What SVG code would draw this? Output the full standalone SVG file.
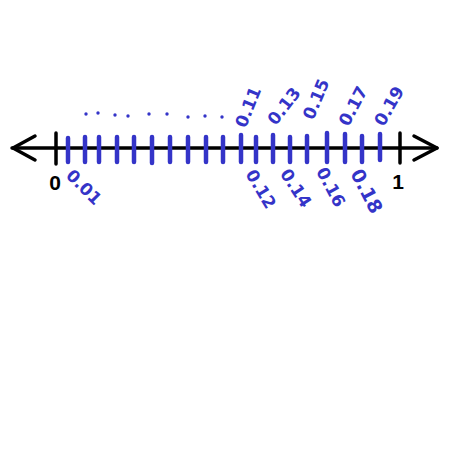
<svg xmlns="http://www.w3.org/2000/svg" width="450" height="450" viewBox="0 0 450 450">
<style>
.ax{stroke:#000;stroke-width:3.5;fill:none;stroke-linecap:round;stroke-linejoin:round}
.bt{stroke:#3434c8;stroke-width:4.5;stroke-linecap:round}
.lb{fill:#3434c8;font-family:"DejaVu Sans",sans-serif;font-size:17px;font-weight:bold;text-anchor:middle;dominant-baseline:central}
.nm{fill:#000;font-family:"Liberation Sans",sans-serif;font-size:21px;font-weight:bold;text-anchor:middle}
</style>
<rect width="450" height="450" fill="#fff"/>
<g id="axis">
<line class="ax" x1="12" y1="148" x2="437" y2="148"/>
<polyline class="ax" points="35,136 13,148 35,160"/>
<polyline class="ax" points="414,136 437,148 414,160"/>
<line class="ax" x1="56" y1="133" x2="56" y2="164"/>
<line class="ax" x1="400" y1="133" x2="400" y2="163"/>
<text class="nm" x="55" y="190">0</text>
<text class="nm" x="398" y="189">1</text>
</g>
<g id="ticks">
<line class="bt" x1="68" y1="138" x2="68" y2="162"/>
<line class="bt" x1="85" y1="137" x2="85" y2="162"/>
<line class="bt" x1="99" y1="137" x2="99" y2="162"/>
<line class="bt" x1="117" y1="137" x2="117" y2="162"/>
<line class="bt" x1="134" y1="137" x2="134" y2="162"/>
<line class="bt" x1="152" y1="137" x2="152" y2="163"/>
<line class="bt" x1="170" y1="137" x2="170" y2="162"/>
<line class="bt" x1="188" y1="137" x2="188" y2="162"/>
<line class="bt" x1="206" y1="137" x2="206" y2="162"/>
<line class="bt" x1="223" y1="137" x2="223" y2="162"/>
<line class="bt" x1="241" y1="135" x2="241" y2="162"/>
<line class="bt" x1="256" y1="137" x2="256" y2="162"/>
<line class="bt" x1="273" y1="135" x2="273" y2="162"/>
<line class="bt" x1="290" y1="137" x2="290" y2="162"/>
<line class="bt" x1="307" y1="136" x2="307" y2="162"/>
<line class="bt" x1="327" y1="133" x2="327" y2="162"/>
<line class="bt" x1="345" y1="134" x2="345" y2="162"/>
<line class="bt" x1="362" y1="136" x2="362" y2="162"/>
<line class="bt" x1="380" y1="134" x2="380" y2="160"/>
</g>
<g id="dots" fill="#3434c8">
<circle cx="86" cy="114" r="1.7"/>
<circle cx="98" cy="113" r="1.7"/>
<circle cx="115" cy="115" r="1.7"/>
<circle cx="128" cy="116" r="1.7"/>
<circle cx="149" cy="114" r="1.7"/>
<circle cx="167" cy="114" r="1.7"/>
<circle cx="188" cy="117" r="1.7"/>
<circle cx="205" cy="116" r="1.7"/>
<circle cx="222" cy="117" r="1.7"/>
</g>
<g id="labels">
<text class="lb" transform="translate(84,187) rotate(45)">0.01</text>
<text class="lb" transform="translate(248,107) rotate(-68)">0.11</text>
<text class="lb" transform="translate(284,106) rotate(-52)">0.13</text>
<text class="lb" transform="translate(316,99) rotate(-67)">0.15</text>
<text class="lb" transform="translate(353,106) rotate(-62)">0.17</text>
<text class="lb" transform="translate(389,106) rotate(-60)">0.19</text>
<text class="lb" transform="translate(261,189) rotate(59)">0.12</text>
<text class="lb" transform="translate(296,188) rotate(57)">0.14</text>
<text class="lb" transform="translate(331,187) rotate(62)">0.16</text>
<text class="lb" transform="translate(367,191) rotate(63)" style="font-size:19px">0.18</text>
</g>
</svg>
